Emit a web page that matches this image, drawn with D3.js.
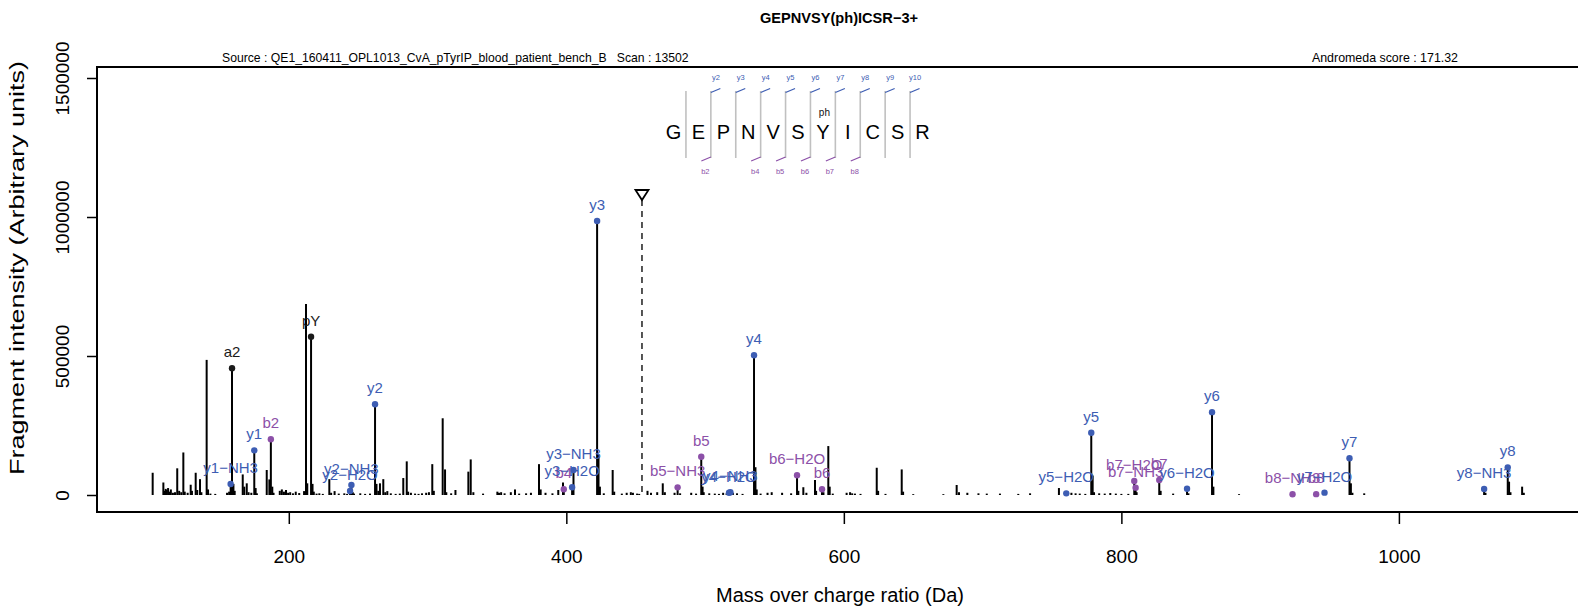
<!DOCTYPE html>
<html><head><meta charset="utf-8">
<script src="https://cdn.jsdelivr.net/npm/d3@7"></script>
<style>body{margin:0;background:#fff}svg{display:block}</style>
</head><body>
<svg id="c" width="1578" height="609"></svg>
<script>
// ---- data ----
const titleText = "GEPNVSY(ph)ICSR\u22123+";
const sourceText = "Source : QE1_160411_OPL1013_CvA_pTyrIP_blood_patient_bench_B   Scan : 13502";
const scoreText = "Andromeda score : 171.32";
const xTicks = [200, 400, 600, 800, 1000];
const yTicks = [0, 500000, 1000000, 1500000];
const precursorMz = 454.52;

// unannotated peaks
const peakMz = [101.9,109.6,110.5,111.3,112.0,113.0,114.1,115.0,116.5,118.0,119.6,121.0,122.5,124.0,125.0,127.1,129.3,130.2,132.9,134.0,136.0,137.0,140.8,141.8,143.5,147.0,155.5,157.0,160.1,161.0,166.8,167.9,169.7,171.0,173.0,176.1,177.0,184.1,186.0,188.1,189.0,193.5,195.0,196.5,198.0,199.5,201.0,203.0,205.0,207.5,211.0,212.4,213.3,217.1,218.0,220.0,222.0,224.5,229.2,230.5,233.0,236.0,240.0,242.0,246.1,247.0,251.5,255.0,258.5,263.2,264.5,265.7,268.1,269.5,271.0,273.5,277.0,280.0,282.5,285.0,286.0,288.0,291.0,293.5,296.0,
 299.0,301.0,303.4,304.5,310.9,312.6,313.5,317.0,320.1,329.4,331.1,333.0,340.0,350.3,351.5,353.0,355.5,360.0,363.0,366.0,371.0,374.5,380.3,381.5,385.0,390.0,394.2,397.6,423.2,424.2,427.0,433.4,434.5,440.0,443.5,446.5,448.0,451.0,452.5,
 458.5,461.0,465.5,469.5,471.0,478.0,482.0,490.0,493.5,498.2,499.0,503.0,507.0,510.0,513.0,515.5,520.0,523.0,527.0,536.3,537.2,540.0,545.0,548.0,555.5,562.0,567.2,570.8,573.0,579.2,580.0,585.3,588.8,589.8,592.0,
 602.0,604.5,606.0,608.0,612.0,623.7,624.7,630.0,641.7,642.7,650.0,671.7,681.3,683.0,689.0,697.0,703.0,712.5,725.7,734.2,755.0,764.0,767.0,770.0,774.0,779.3,780.3,784.0,788.0,792.0,796.0,800.0,805.0,811.0,828.3,837.3,848.3,866.3,884.8,965.4,966.5,975.0,1062.4,1079.4,1080.4,1088.8,1090.0];
const peakInt = [80000,45000,15000,22000,18000,25000,12000,20000,8000,10000,96000,15000,10000,153000,12000,8000,37000,15000,80000,18000,57000,10000,486000,20000,5000,4000,8000,12000,40000,15000,74000,30000,42000,10000,8000,25000,6000,90000,56000,30000,8000,15000,20000,12000,18000,8000,10000,6000,12000,7000,14000,687000,42000,40000,12000,5000,6000,4000,57000,8000,14000,5000,6000,4000,10000,5000,6000,4000,5000,40000,15000,42000,57000,10000,14000,6000,4000,5000,61000,121000,12000,8000,5000,4000,6000,
 8000,10000,111000,15000,276000,92000,10000,6000,18000,84000,128000,10000,5000,12000,8000,10000,6000,10000,20000,5000,6000,8000,111000,20000,8000,6000,18000,45000,145000,30000,6000,90000,12000,5000,8000,10000,8000,5000,4000,
 15000,8000,10000,42000,10000,8000,6000,8000,5000,30000,10000,6000,5000,4000,8000,6000,8000,6000,4000,100000,20000,5000,8000,10000,8000,6000,15000,28000,8000,54000,15000,10000,176000,30000,5000,
 8000,10000,6000,5000,4000,98000,15000,4000,92000,12000,3000,3000,36000,10000,8000,6000,5000,5000,4000,6000,25000,8000,6000,5000,4000,70000,10000,6000,5000,7000,5000,4000,4000,10000,15000,5000,6000,30000,3000,42000,8000,6000,8000,48000,10000,30000,8000];

// annotated fragment ions
const ionLabel = ["y1\u2212NH3","a2","y1","b2","pY","y2\u2212H2O","y2\u2212NH3","y2","b4","y3\u2212H2O","y3\u2212NH3","y3","b5\u2212NH3","b5","y4\u2212H2O","y4\u2212NH3","y4","b6\u2212H2O","b6","y5\u2212H2O","y5","b7\u2212H2O","b7\u2212NH3","b7","y6\u2212H2O","y6","b8\u2212NH3","b8","y7\u2212H2O","y7","y8\u2212NH3","y8"];
const ionMz = [158.09,159.08,175.12,187.07,216.04,244.14,245.12,262.15,398.17,404.17,405.16,422.18,480.21,497.24,517.26,518.24,535.27,566.26,584.27,760.29,778.30,809.29,810.27,827.30,847.32,865.33,923.35,940.38,946.39,964.40,1061.41,1078.44];
const ionInt = [39500,455700,160700,200300,569400,14400,36000,326200,20500,27700,90000,985600,27600,137800,8000,9700,502500,70800,20500,6000,224000,50400,26400,54000,22700,298000,2500,3000,8400,132000,21600,99500];
const ionType = ["y","other","y","b","other","y","y","y","b","y","y","y","b","b","y","y","y","b","b","y","y","b","b","b","y","y","b","b","y","y","y","y"];

// peptide sequence diagram
const sequence = ["G","E","P","N","V","S","Y","I","C","S","R"];
const modIndex = 6, modLabel = "ph";
const yMarkIdx = [2,3,4,5,6,7,8,9,10];
const yMarkLab = ["y2","y3","y4","y5","y6","y7","y8","y9","y10"];
const bMarkIdx = [2,4,5,6,7,8];
const bMarkLab = ["b2","b4","b5","b6","b7","b8"];

// ---- drawing ----
const FONT = "'Liberation Sans', Arial, Helvetica, sans-serif";
const colors = {y: "#3D5DB3", b: "#8C50A8", other: "#1a1a1a"};
const svg = d3.select("#c").style("font-family", FONT);
const x = d3.scaleLinear().domain([200, 1000]).range([288.8, 1398.9]);
const y = d3.scaleLinear().domain([0, 1500000]).range([495, 78]);
const box = {l: 97, t: 67, r: 1590, b: 512};

// title & headers
svg.append("text").attr("x", 839).attr("y", 23).attr("text-anchor", "middle")
  .attr("font-size", 14.6).attr("font-weight", "bold").text(titleText);
svg.append("text").attr("x", 222).attr("y", 62).attr("font-size", 12.2).style("white-space","pre").text(sourceText);
svg.append("text").attr("x", 1458).attr("y", 62).attr("text-anchor", "end").attr("font-size", 12.4).text(scoreText);

// peaks
const g = svg.append("g");
peakMz.forEach((m, i) => {
  g.append("line").attr("x1", x(m)).attr("x2", x(m)).attr("y1", y(0)).attr("y2", y(peakInt[i]))
    .attr("stroke", "#000").attr("stroke-width", 2);
});
ionMz.forEach((m, i) => {
  g.append("line").attr("x1", x(m)).attr("x2", x(m)).attr("y1", y(0)).attr("y2", y(ionInt[i]))
    .attr("stroke", "#000").attr("stroke-width", 2);
});
ionMz.forEach((m, i) => {
  g.append("circle").attr("cx", x(m)).attr("cy", y(ionInt[i])).attr("r", 3.2).attr("fill", colors[ionType[i]]);
});
ionMz.forEach((m, i) => {
  g.append("text").attr("x", x(m)).attr("y", y(ionInt[i]) - 11).attr("text-anchor", "middle")
    .attr("font-size", 15).attr("fill", colors[ionType[i]]).text(ionLabel[i]);
});

// precursor
const px = x(precursorMz);
svg.append("line").attr("x1", px).attr("x2", px).attr("y1", 200).attr("y2", y(0))
  .attr("stroke", "#444").attr("stroke-width", 1.8).attr("stroke-dasharray", "6,5");
svg.append("path").attr("d", `M${px-6.5},190 L${px+6.5},190 L${px},200 Z`)
  .attr("fill", "#fff").attr("stroke", "#000").attr("stroke-width", 1.8);

// frame
svg.append("path").attr("d", `M${box.r},${box.t} L${box.l},${box.t} L${box.l},${box.b} L${box.r},${box.b}`)
  .attr("fill", "none").attr("stroke", "#000").attr("stroke-width", 2);

// axes
const xa = svg.append("g").attr("transform", `translate(0,${box.b})`)
  .call(d3.axisBottom(x).tickValues(xTicks).tickSize(12).tickPadding(26).tickFormat(d3.format("d")));
xa.select(".domain").remove();
xa.selectAll("text").attr("font-size", 19).attr("font-family", FONT).attr("fill", "#000");
xa.selectAll("line").attr("stroke-width", 1.5);

const ya = svg.append("g").attr("transform", `translate(${box.l},0)`)
  .call(d3.axisLeft(y).tickValues(yTicks).tickSize(10).tickFormat(d3.format("d")));
ya.select(".domain").remove();
ya.selectAll("line").attr("stroke-width", 1.5);
ya.selectAll("text").attr("font-size", 19).attr("font-family", FONT).attr("fill", "#000")
  .attr("x", null).attr("dy", null).attr("text-anchor", "middle")
  .attr("transform", "translate(-28,0) rotate(-90)");

svg.append("text").attr("transform", "translate(24,268) rotate(-90) scale(1.35,1)").attr("text-anchor", "middle")
  .attr("font-size", 20).text("Fragment intensity (Arbitrary units)");
svg.append("text").attr("x", 840).attr("y", 602).attr("text-anchor", "middle")
  .attr("font-size", 20).text("Mass over charge ratio (Da)");

// sequence diagram
const sx = d3.scaleLinear().domain([0, sequence.length - 1]).range([673.5, 922.5]);
const sepX = i => (sx(i - 1) + sx(i)) / 2;   // separator after residue i (1-based count)
const sg = svg.append("g");
sequence.forEach((aa, i) => {
  sg.append("text").attr("x", sx(i)).attr("y", 138.5).attr("text-anchor", "middle")
    .attr("font-size", 20).attr("fill", "#000").text(aa);
});
sg.append("text").attr("x", sx(modIndex) + 1.5).attr("y", 116).attr("text-anchor", "middle")
  .attr("font-size", 10).attr("fill", "#111").text(modLabel);
for (let i = 1; i < sequence.length; i++) {
  sg.append("line").attr("x1", sepX(i)).attr("x2", sepX(i)).attr("y1", 91).attr("y2", 158)
    .attr("stroke", "#c0c0c0").attr("stroke-width", 1.6);
}
yMarkIdx.forEach((k, j) => {
  const sxp = sepX(k);
  sg.append("line").attr("x1", sxp).attr("y1", 92.5).attr("x2", sxp + 9.5).attr("y2", 88.5)
    .attr("stroke", colors.y).attr("stroke-width", 1.2);
  sg.append("text").attr("x", sxp + 5).attr("y", 80).attr("text-anchor", "middle")
    .attr("font-size", 7.5).attr("fill", colors.y).text(yMarkLab[j]);
});
bMarkIdx.forEach((k, j) => {
  const sxp = sepX(k);
  sg.append("line").attr("x1", sxp).attr("y1", 157).attr("x2", sxp - 9.5).attr("y2", 161)
    .attr("stroke", colors.b).attr("stroke-width", 1.2);
  sg.append("text").attr("x", sxp - 5.5).attr("y", 173.5).attr("text-anchor", "middle")
    .attr("font-size", 7.5).attr("fill", colors.b).text(bMarkLab[j]);
});
</script>
</body></html>
